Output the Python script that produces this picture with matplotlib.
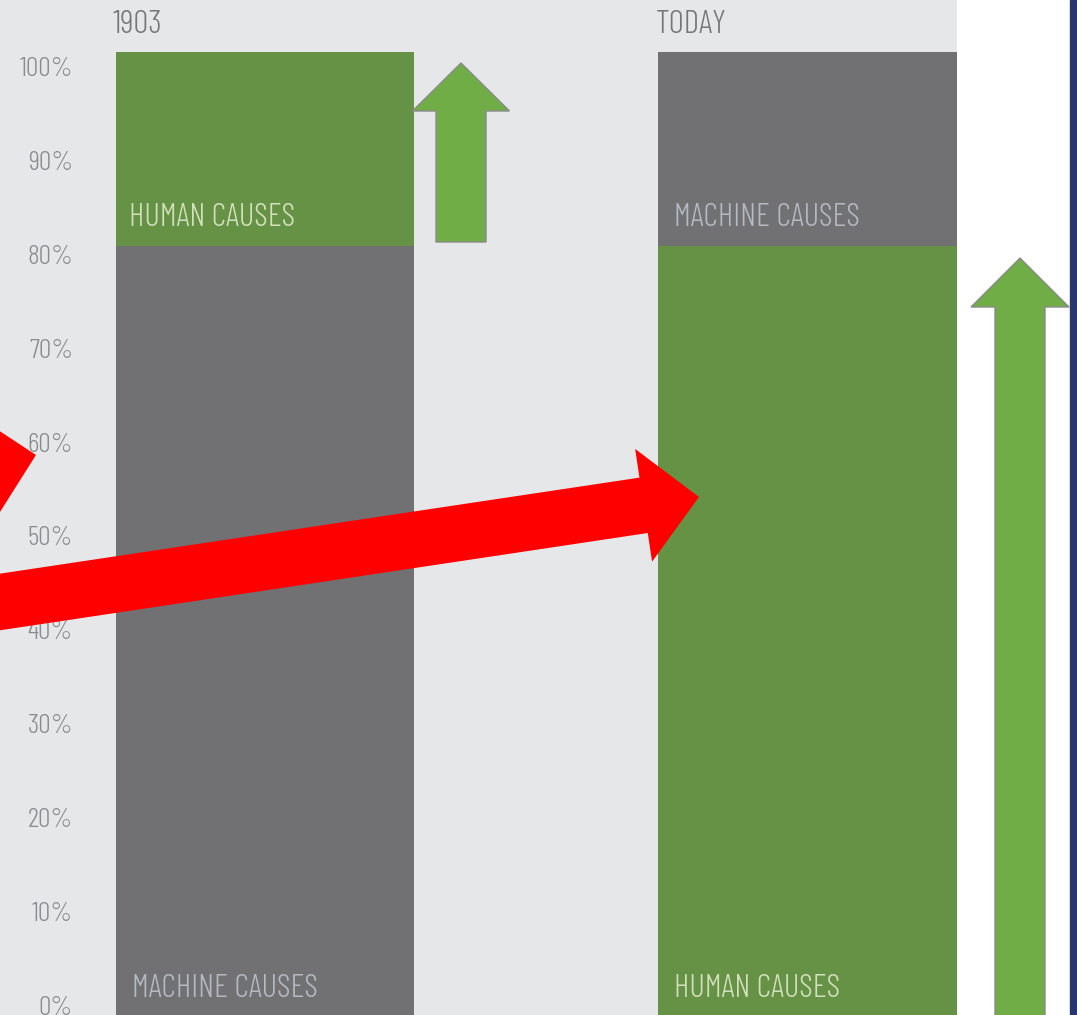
import matplotlib
matplotlib.use("Agg")
from matplotlib import pyplot as plt
from matplotlib.patches import FancyArrow, Rectangle
from matplotlib.transforms import Affine2D

# data (percent of accidents)
periods = ["1903", "TODAY"]
lower_top = [80.9, 80.9]        # top of the lower segment
upper_top = [101.6, 101.6]      # top of the upper segment
lower_labels = ["MACHINE CAUSES", "HUMAN CAUSES"]
upper_labels = ["HUMAN CAUSES", "MACHINE CAUSES"]
tick_values = [0, 10, 20, 30, 40, 50, 60, 70, 80, 90, 100]
tick_labels = [f"{v}%" for v in tick_values]

GREEN = "#669245"
GREY = "#717072"
BG = "#e6e7e9"
ARROW_GREEN = "#70ad47"
RED = "#ff0000"
FONT = ["Barlow Condensed", "DejaVu Sans"]

W, H = 1077, 1015
fig = plt.figure(figsize=(W / 100, H / 100), dpi=100, facecolor="white")
ax = fig.add_axes([0, 0, 957 / W, 1])
ax.set_facecolor(BG)
for s in ax.spines.values():
    s.set_visible(False)

ax.set_xlim(-0.4885, 1.2756)
ax.set_ylim(-1.066, 107.14)
bar_w = 0.55
base = ax.get_ylim()[0]
x = list(range(len(periods)))

lower_colors = [GREY, GREEN]
upper_colors = [GREEN, GREY]
lower_h = [t - base for t in lower_top]
upper_h = [u - l for u, l in zip(upper_top, lower_top)]
ax.bar(x, lower_h, bar_w, bottom=base, color=lower_colors, linewidth=0)
ax.bar(x, upper_h, bar_w, bottom=lower_top, color=upper_colors, linewidth=0)

ax.set_xticks([])
ax.set_yticks(tick_values)
ax.set_yticklabels(tick_labels, family=FONT, fontweight=300, fontsize=20, color="#8a8b90")
ax.tick_params(axis="y", length=0, pad=-52.5)

text_on = {GREEN: "#d3e0bd", GREY: "#b5b9c3"}
pt = 0.72  # points per pixel at dpi 100
upper_dx = [13, 16]
for i, p in enumerate(periods):
    left = x[i] - bar_w / 2
    ax.annotate(p, (left, upper_top[i]), xytext=(-3 * pt, 19 * pt), textcoords="offset points",
                ha="left", va="baseline", family=FONT, fontweight=300, fontsize=24, color="#76777b")
    ax.annotate(upper_labels[i], (left, lower_top[i]), xytext=(upper_dx[i] * pt, 20 * pt),
                textcoords="offset points", ha="left", va="baseline", family=FONT,
                fontweight=300, fontsize=23.5, color=text_on[upper_colors[i]])
    ax.annotate(lower_labels[i], (left, 0), xytext=(16 * pt, 8.5 * pt), textcoords="offset points",
                ha="left", va="baseline", family=FONT, fontweight=300, fontsize=23.5,
                color=text_on[lower_colors[i]])

# overlay shapes drawn in pixel space (y downwards)
px = Affine2D().scale(1 / 100, -1 / 100).translate(0, H / 100) + fig.dpi_scale_trans


def arrow(x0, y0, x1, y1, width, head_w, head_l, color, edge="none", lw=0):
    a = FancyArrow(x0, y0, x1 - x0, y1 - y0, width=width, head_width=head_w,
                   head_length=head_l, length_includes_head=True,
                   facecolor=color, edgecolor=edge, linewidth=lw, transform=px)
    fig.patches.append(a)


# green arrows
arrow(461, 242, 461, 63, 50, 97, 48, ARROW_GREEN, "#8a8a8a", 1)
arrow(1020, 1040, 1020, 258, 50, 98, 49, ARROW_GREEN, "#8a8a8a", 1)

# red arrows
arrow(-100, 617, 699, 497, 56, 114, 56, RED)
arrow(-200, 506, 36, 455, 56, 114, 56, RED)

# navy border on the right
fig.patches.append(Rectangle((1070, 0), 10, H, transform=px, color="#283670"))

fig.savefig("out.png", dpi=100, facecolor="white")
